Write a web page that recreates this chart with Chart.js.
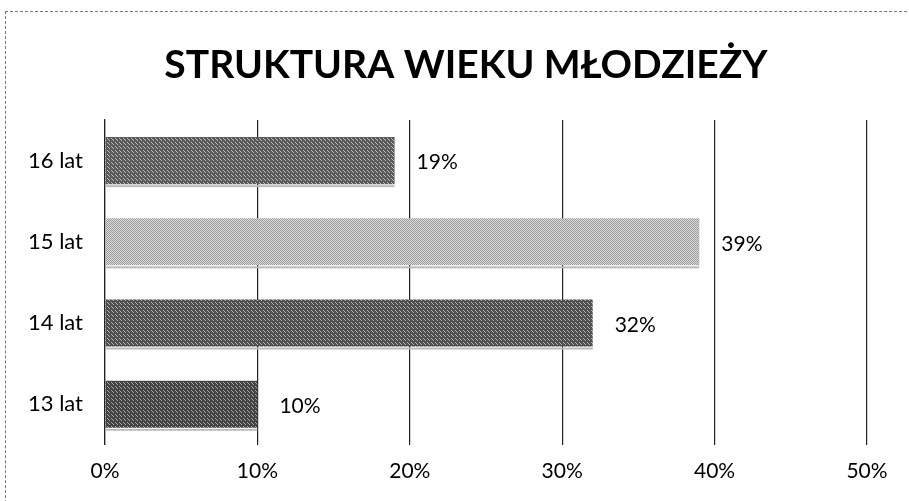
<!DOCTYPE html>
<html>
<head>
<meta charset="utf-8">
<script src="https://cdn.jsdelivr.net/npm/chart.js@4"></script>
<style>
  html, body { margin: 0; padding: 0; background: #fff; overflow: hidden; }
  #wrap { position: relative; width: 909px; height: 501px; overflow: hidden; }
  #frame { position: absolute; left: 5px; top: 11px; width: 1000px; height: 600px; border: 1px dashed #777; }
  canvas { display: block; }
</style>
</head>
<body>
<div id="wrap">
  <div id="frame"></div>
  <canvas id="chart" width="909" height="501"></canvas>
</div>
<script>
const categories = ['16 lat', '15 lat', '14 lat', '13 lat'];
const values = [19, 39, 32, 10];
const xTicks = [0, 10, 20, 30, 40, 50];
const titleText = 'STRUKTURA WIEKU MŁODZIEŻY';

// small textured fills, roughly like the scanned hatching
const makePattern = (dark, light, kind) => {
    const c = document.createElement('canvas');
    c.width = 4; c.height = 4;
    const g = c.getContext('2d');
    g.fillStyle = dark;
    g.fillRect(0, 0, 4, 4);
    g.fillStyle = light;
    if (kind === 'diag') {
        for (let i = 0; i < 4; i++) g.fillRect((i + 1) % 4, i, 1, 1);
        for (let i = 0; i < 4; i++) g.fillRect((i + 3) % 4, i, 1, 1);
    } else {
        g.fillRect(1, 0, 1, 1);
        g.fillRect(3, 2, 1, 1);
        g.fillRect(0, 3, 1, 1);
    }
    return g.createPattern(c, 'repeat');
};

const fills = [
    makePattern('#5a5a5a', '#bdbdbd', 'dots'),
    makePattern('#9a9a9a', '#dcdcdc', 'diag'),
    makePattern('#4e4e4e', '#b5b5b5', 'dots'),
    makePattern('#434343', '#a8a8a8', 'dots'),
];

// title sits a bit right of the canvas centre in the original, so draw it by hand
const chartTitle = {
    id: 'chartTitle',
    afterDraw(chart) {
        const ctx = chart.ctx;
        ctx.save();
        ctx.font = 'bold 39px Lato';
        ctx.fillStyle = '#000';
        ctx.textAlign = 'center';
        ctx.textBaseline = 'middle';
        ctx.fillText(titleText, 466, 65);
        ctx.restore();
    }
};

const barLabels = {
    id: 'barLabels',
    afterDatasetsDraw(chart) {
        const ctx = chart.ctx;
        const meta = chart.getDatasetMeta(0);
        ctx.save();
        ctx.font = '21px Lato';
        ctx.textBaseline = 'middle';
        meta.data.forEach((bar, i) => {
            // thin shadow under each bar
            ctx.fillStyle = '#bbb';
            ctx.fillRect(bar.base, bar.y + bar.height / 2 + 1, bar.x - bar.base, 2);
            ctx.fillStyle = '#000';
            ctx.fillText(values[i] + '%', bar.x + 22, bar.y + 2);
        });
        ctx.restore();
    }
};

new Chart(document.getElementById('chart'), {
    type: 'bar',
    data: {
        labels: categories,
        datasets: [{
            data: values,
            backgroundColor: fills,
            barPercentage: 0.58,
            categoryPercentage: 1.0,
        }]
    },
    options: {
        indexAxis: 'y',
        responsive: false,
        animation: false,
        layout: { padding: { left: 5, right: 42, bottom: 3, top: 120 } },
        plugins: {
            legend: { display: false },
            tooltip: { enabled: false },
            title: { display: false },
        },
        scales: {
            x: {
                min: 0,
                max: 50,
                afterBuildTicks: (axis) => { axis.ticks = xTicks.map(v => ({ value: v })); },
                grid: { color: '#222', lineWidth: 1.2, drawTicks: false },
                border: { display: false },
                ticks: {
                    color: '#000',
                    padding: 14,
                    font: { family: 'Lato', size: 21 },
                    callback: (v) => v + '%',
                },
            },
            y: {
                afterFit: (axis) => { axis.width = 100; },
                grid: { display: false, drawTicks: false },
                border: { color: '#222', width: 1.2 },
                ticks: {
                    color: '#000',
                    padding: 22,
                    font: { family: 'Lato', size: 22 },
                },
            },
        },
    },
    plugins: [barLabels, chartTitle],
});
</script>
</body>
</html>
